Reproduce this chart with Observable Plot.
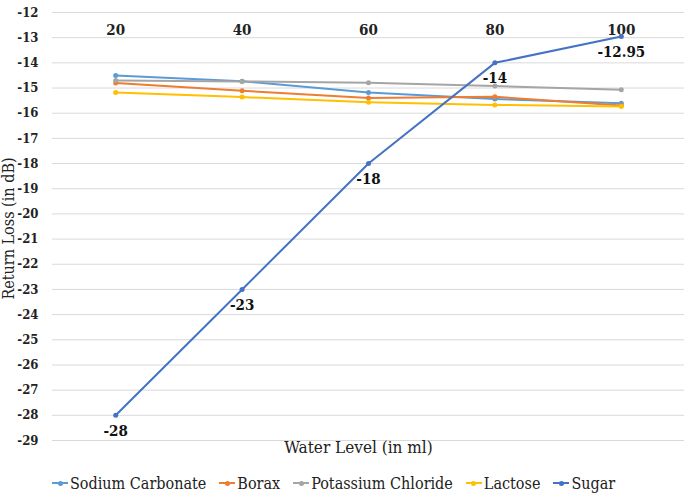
<!DOCTYPE html>
<html>
<head>
<meta charset="utf-8">
<script src="https://cdn.jsdelivr.net/npm/d3@7"></script>
<script src="https://cdn.jsdelivr.net/npm/@observablehq/plot@0.6"></script>
<style>
  body { margin: 0; background: #fff; font-family: "DejaVu Serif Condensed", "DejaVu Serif", serif; font-stretch: condensed; }
  #chart svg { display: block; font-stretch: condensed; }
  .legend { display: flex; justify-content: flex-start; gap: 13px; font-size: 16px; color: #222; height: 36px; align-items: center; padding-left: 52px; }
  .legend .item { display: flex; align-items: center; }
  .legend .sym { position: relative; width: 16px; height: 2px; margin-right: 2px; }
  .legend .sym::after { content: ""; position: absolute; left: 5.5px; top: -1.5px; width: 5px; height: 5px; border-radius: 50%; background: inherit; }
</style>
</head>
<body>
<div id="chart"></div>
<script>
const waterLevels = [20, 40, 60, 80, 100];
const seriesNames = ["Sodium Carbonate", "Borax", "Potassium Chloride", "Lactose", "Sugar"];
const seriesColors = ["#5B9BD5", "#ED7D31", "#A5A5A5", "#FFC000", "#4472C4"];
const sodiumCarbonate = [-14.5, -14.73, -15.18, -15.44, -15.6];
const borax = [-14.8, -15.11, -15.4, -15.35, -15.69];
const potassiumChloride = [-14.7, -14.74, -14.79, -14.92, -15.07];
const lactose = [-15.18, -15.36, -15.56, -15.67, -15.73];
const sugar = [-28, -23, -18, -14, -12.95];
const yTicks = d3.range(-12, -30, -1);

const allSeries = [sodiumCarbonate, borax, potassiumChloride, lactose, sugar];
const rows = [];
allSeries.forEach((vals, i) => vals.forEach((v, j) => rows.push({series: seriesNames[i], x: waterLevels[j], y: v})));
const sugarRows = rows.filter(d => d.series === "Sugar");

const plot = Plot.plot({
  width: 685,
  height: 465,
  marginTop: 12,
  marginBottom: 25,
  marginLeft: 52,
  marginRight: 1,
  style: {color: "#222", fontFamily: "'DejaVu Serif Condensed', 'DejaVu Serif', serif"},
  x: {type: "linear", domain: [10, 110]},
  y: {domain: [-29, -12]},
  color: {domain: seriesNames, range: seriesColors},
  marks: [
    Plot.gridY(yTicks, {stroke: "#d9d9d9", strokeOpacity: 1, strokeWidth: 1}),
    Plot.axisY(yTicks, {tickSize: 0, tickPadding: 14, tickFormat: d => `${d}`, fontSize: 13, fontWeight: "bold", label: null}),
    Plot.axisX(waterLevels, {anchor: "top", tickSize: 0, tickPadding: 0, dy: 22, tickFormat: d => `${d}`, fontSize: 15, fontWeight: "bold", label: null}),
    Plot.text(["Return Loss (in dB)"], {frameAnchor: "left", textAnchor: "middle", rotate: -90, dx: -44, dy: 2, fontSize: 16, fill: "#222"}),
    Plot.text(["Water Level (in ml)"], {frameAnchor: "bottom", textAnchor: "middle", dx: -10, dy: 12, fontSize: 17, fill: "#222"}),
    Plot.line(rows, {x: "x", y: "y", z: "series", stroke: "series", strokeWidth: 2}),
    Plot.dot(rows, {x: "x", y: "y", fill: "series", r: 2.5}),
    Plot.text(sugarRows, {x: "x", y: "y", text: d => `${d.y}`, dy: 15.5, fontSize: 15, fontWeight: "bold", fill: "#111"})
  ]
});
document.getElementById("chart").appendChild(plot);

const legend = document.createElement("div");
legend.className = "legend";
seriesNames.forEach((name, i) => {
  const item = document.createElement("div");
  item.className = "item";
  const sym = document.createElement("span");
  sym.className = "sym";
  sym.style.background = seriesColors[i];
  const label = document.createElement("span");
  label.textContent = name;
  item.appendChild(sym);
  item.appendChild(label);
  legend.appendChild(item);
});
document.body.appendChild(legend);
</script>
</body>
</html>
